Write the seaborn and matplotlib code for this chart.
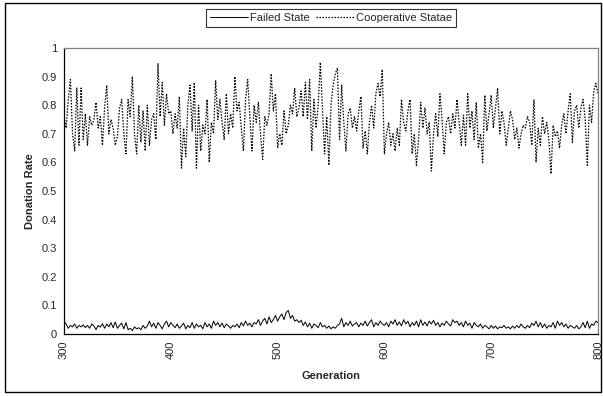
import numpy as np
import pandas as pd
import matplotlib
matplotlib.use("Agg")
import matplotlib.pyplot as plt
from matplotlib.patches import Rectangle
import seaborn as sns

generations = np.arange(300, 801, 2)

cooperative_state = [
    0.76, 0.72, 0.82, 0.89, 0.70, 0.64, 0.86, 0.66, 0.86, 0.68,
    0.77, 0.66, 0.76, 0.73, 0.75, 0.81, 0.72, 0.76, 0.66, 0.79,
    0.87, 0.70, 0.75, 0.72, 0.66, 0.69, 0.79, 0.82, 0.70, 0.63,
    0.82, 0.76, 0.90, 0.70, 0.63, 0.80, 0.67, 0.78, 0.64, 0.80,
    0.66, 0.75, 0.77, 0.68, 0.945, 0.76, 0.88, 0.73, 0.84, 0.77,
    0.78, 0.70, 0.77, 0.72, 0.83, 0.58, 0.72, 0.62, 0.80, 0.87,
    0.71, 0.88, 0.58, 0.80, 0.64, 0.73, 0.70, 0.82, 0.60, 0.74,
    0.70, 0.885, 0.75, 0.82, 0.74, 0.68, 0.84, 0.70, 0.77, 0.72,
    0.90, 0.78, 0.81, 0.72, 0.64, 0.82, 0.89, 0.76, 0.64, 0.80,
    0.74, 0.81, 0.70, 0.61, 0.76, 0.73, 0.77, 0.91, 0.78, 0.84,
    0.65, 0.70, 0.66, 0.78, 0.70, 0.73, 0.80, 0.77, 0.86, 0.76,
    0.79, 0.85, 0.76, 0.88, 0.75, 0.89, 0.64, 0.82, 0.72, 0.80,
    0.95, 0.79, 0.63, 0.76, 0.59, 0.80, 0.87, 0.91, 0.93, 0.68,
    0.87, 0.74, 0.64, 0.77, 0.79, 0.72, 0.76, 0.71, 0.78, 0.83,
    0.65, 0.71, 0.63, 0.74, 0.80, 0.72, 0.84, 0.876, 0.83, 0.925,
    0.63, 0.70, 0.74, 0.66, 0.70, 0.64, 0.72, 0.66, 0.82, 0.74,
    0.71, 0.78, 0.82, 0.63, 0.70, 0.59, 0.68, 0.81, 0.72, 0.79,
    0.70, 0.74, 0.57, 0.70, 0.77, 0.69, 0.84, 0.75, 0.63, 0.74,
    0.76, 0.70, 0.77, 0.72, 0.82, 0.74, 0.66, 0.765, 0.66, 0.84,
    0.72, 0.78, 0.68, 0.81, 0.65, 0.70, 0.60, 0.835, 0.71, 0.77,
    0.835, 0.72, 0.79, 0.86, 0.70, 0.78, 0.74, 0.66, 0.72, 0.78,
    0.75, 0.68, 0.72, 0.65, 0.70, 0.73, 0.72, 0.76, 0.74, 0.66,
    0.82, 0.60, 0.72, 0.66, 0.76, 0.70, 0.74, 0.68, 0.56, 0.73,
    0.69, 0.71, 0.65, 0.73, 0.77, 0.70, 0.78, 0.84, 0.67, 0.78,
    0.80, 0.72, 0.79, 0.82, 0.75, 0.59, 0.80, 0.74, 0.85, 0.876,
    0.84,
]

failed_state = [
    0.045, 0.035, 0.02, 0.03, 0.025, 0.035, 0.02, 0.03, 0.025, 0.032,
    0.022, 0.03, 0.02, 0.035, 0.028, 0.015, 0.03, 0.024, 0.036, 0.02,
    0.035, 0.025, 0.04, 0.022, 0.042, 0.02, 0.03, 0.038, 0.018, 0.04,
    0.015, 0.02, 0.012, 0.025, 0.018, 0.022, 0.015, 0.03, 0.02, 0.028,
    0.045, 0.025, 0.038, 0.02, 0.04, 0.03, 0.018, 0.035, 0.045, 0.025,
    0.04, 0.03, 0.022, 0.035, 0.02, 0.028, 0.038, 0.018, 0.03, 0.022,
    0.04, 0.02, 0.035, 0.025, 0.03, 0.018, 0.04, 0.025, 0.035, 0.02,
    0.045, 0.03, 0.04, 0.025, 0.038, 0.022, 0.035, 0.028, 0.02, 0.03,
    0.025, 0.035, 0.022, 0.04, 0.028, 0.045, 0.03, 0.038, 0.025, 0.04,
    0.035, 0.05, 0.03, 0.045, 0.055, 0.035, 0.06, 0.04, 0.05, 0.065,
    0.045, 0.06, 0.07, 0.05, 0.075, 0.082, 0.055, 0.065, 0.045, 0.05,
    0.04, 0.048, 0.03, 0.042, 0.025, 0.038, 0.02, 0.035, 0.03, 0.022,
    0.04, 0.025, 0.03, 0.02, 0.028, 0.018, 0.025, 0.02, 0.03, 0.035,
    0.055, 0.025, 0.04, 0.03, 0.045, 0.028, 0.035, 0.04, 0.025, 0.038,
    0.03, 0.045, 0.028, 0.04, 0.05, 0.025, 0.04, 0.03, 0.045, 0.035,
    0.03, 0.04, 0.025, 0.045, 0.035, 0.05, 0.03, 0.042, 0.028, 0.05,
    0.035, 0.045, 0.025, 0.04, 0.03, 0.045, 0.025, 0.05, 0.03, 0.042,
    0.028, 0.045, 0.035, 0.048, 0.03, 0.04, 0.025, 0.038, 0.03, 0.045,
    0.035, 0.028, 0.05, 0.04, 0.045, 0.03, 0.04, 0.025, 0.045, 0.03,
    0.038, 0.02, 0.04, 0.03, 0.025, 0.035, 0.02, 0.03, 0.025, 0.018,
    0.03, 0.02, 0.028, 0.018, 0.025, 0.022, 0.03, 0.02, 0.025, 0.018,
    0.028, 0.02, 0.03, 0.022, 0.035, 0.025, 0.02, 0.03, 0.022, 0.038,
    0.03, 0.045, 0.025, 0.04, 0.022, 0.035, 0.02, 0.03, 0.025, 0.04,
    0.02, 0.045, 0.03, 0.04, 0.025, 0.035, 0.02, 0.03, 0.025, 0.02,
    0.03, 0.018, 0.025, 0.04, 0.022, 0.045, 0.02, 0.035, 0.03, 0.045,
    0.04,
]

x_ticks = [300, 400, 500, 600, 700, 800]
y_ticks = [0, 0.1, 0.2, 0.3, 0.4, 0.5, 0.6, 0.7, 0.8, 0.9, 1]
y_tick_labels = ["0", "0.1", "0.2", "0.3", "0.4", "0.5", "0.6", "0.7", "0.8", "0.9", "1"]

df = pd.DataFrame({
    "Generation": generations,
    "Failed State": failed_state,
    "Cooperative Statae": cooperative_state,
})

sns.set_style("white")
plt.rcParams["font.family"] = ["Liberation Sans", "DejaVu Sans"]

fig = plt.figure(figsize=(6.03, 3.96), dpi=100)
ax = fig.add_axes([64 / 603, 1 - 334 / 396, (598 - 64) / 603, (334 - 48) / 396])

sns.lineplot(data=df, x="Generation", y="Failed State", ax=ax,
             color="black", linewidth=0.7, label="Failed State")
sns.lineplot(data=df, x="Generation", y="Cooperative Statae", ax=ax,
             color="black", linewidth=0.9, linestyle=(0, (1.2, 1.2)), label="Cooperative Statae")

ax.set_xlim(300, 800)
ax.set_ylim(0, 1)
ax.set_xticks(x_ticks)
ax.set_xticklabels([str(t) for t in x_ticks], rotation=90, fontsize=8)
ax.set_yticks(y_ticks)
ax.set_yticklabels(y_tick_labels, fontsize=8)
ax.tick_params(axis="both", direction="out", length=3, width=0.8, color="black", pad=2)
ax.set_xlabel("Generation", fontsize=8, fontweight="bold", labelpad=8)
ax.set_ylabel("Donation Rate", fontsize=8, fontweight="bold", labelpad=5)
ax.grid(False)

for side in ["left", "bottom"]:
    ax.spines[side].set_color("black")
    ax.spines[side].set_linewidth(0.9)
for side in ["top", "right"]:
    ax.spines[side].set_color("#808080")
    ax.spines[side].set_linewidth(0.9)

ax.get_legend().remove()
handles, labels = ax.get_legend_handles_labels()
leg = fig.legend(handles, labels, loc="center", bbox_to_anchor=(331 / 603, 1 - 18 / 396),
                 ncol=2, fontsize=8, frameon=True, fancybox=False, handlelength=3.4,
                 handletextpad=0.2, columnspacing=0.6, borderpad=0.35)
leg.get_frame().set_edgecolor("black")
leg.get_frame().set_linewidth(0.8)

# outer chart border
fig.patches.append(Rectangle((5 / 603, 4 / 396), 596 / 603, 389 / 396, transform=fig.transFigure,
                             fill=False, edgecolor="black", linewidth=1.0))

fig.savefig("out.png", dpi=100)
